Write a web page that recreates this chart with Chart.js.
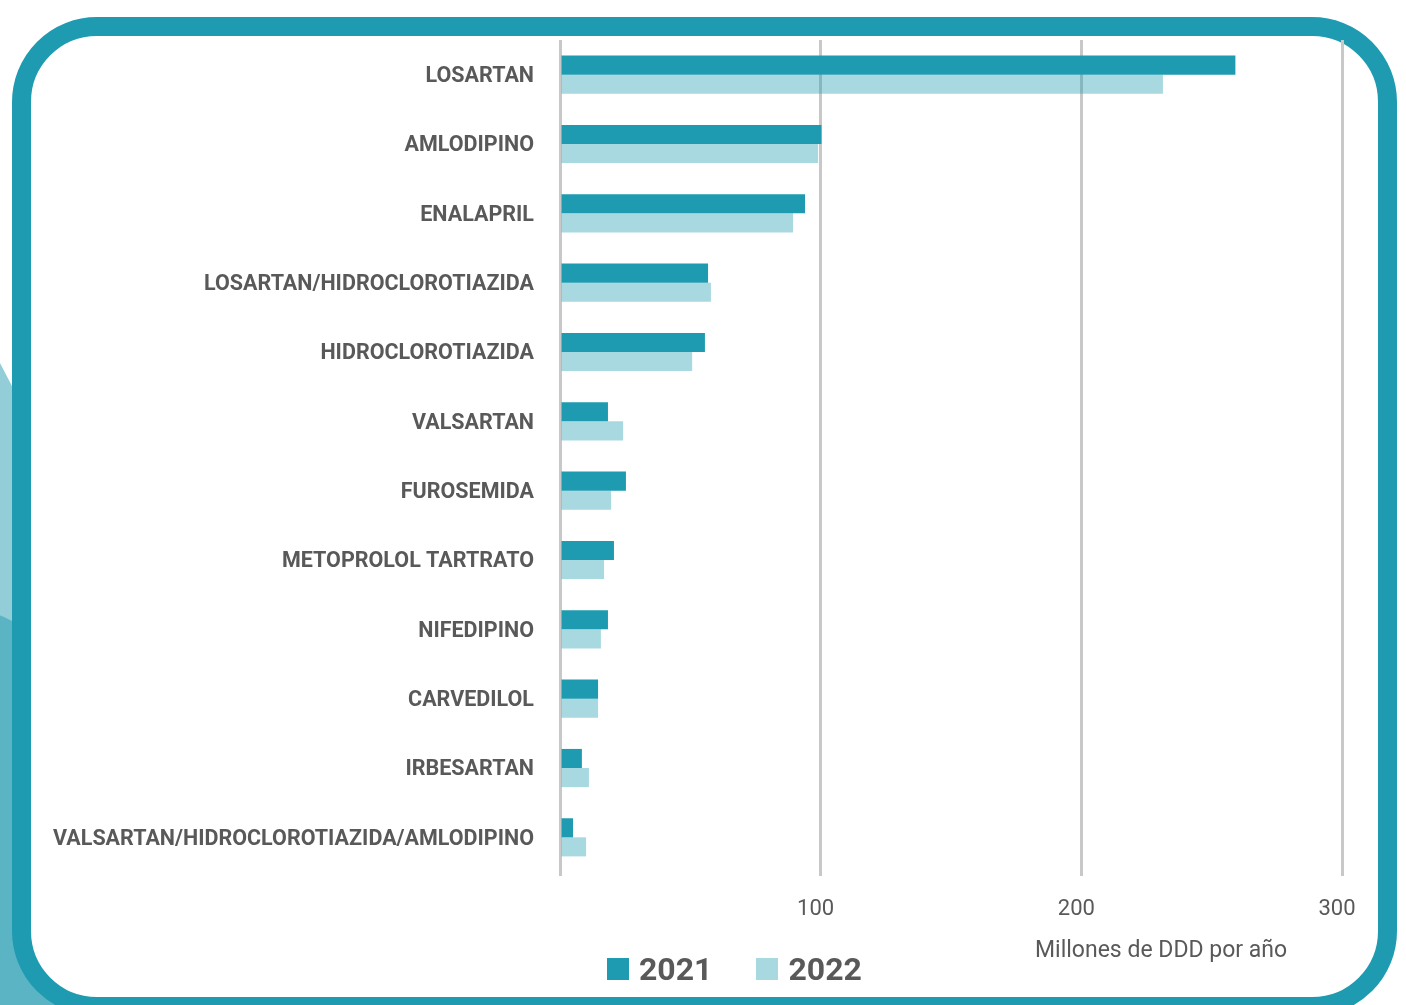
<!DOCTYPE html>
<html lang="es">
<head>
<meta charset="utf-8">
<title>Consumo de antihipertensivos</title>
<script src="https://cdn.jsdelivr.net/npm/chart.js@4/dist/chart.umd.min.js"></script>
<style>
  html, body { margin: 0; padding: 0; background: #fff; }
  body { width: 1406px; height: 1005px; position: relative; overflow: hidden; font-family: Roboto, 'Noto Sans', sans-serif; }
  .deco { position: absolute; left: 0; width: 120px; z-index: 0; }
  .deco-light { top: 300px; height: 400px; background: #93ced8;
    clip-path: polygon(0 63px, 40px 140px, 40px 340px, 0 315px); }
  .deco-dark { top: 600px; height: 405px; background: #5ab4c4;
    clip-path: polygon(0 15px, 40px 35px, 120px 35px, 120px 405px, 0 405px); }
  .frame { position: absolute; left: 12px; top: 17px; width: 1347px; height: 961px;
    border: 19px solid #1e9bb0; border-radius: 85px; background: #fff; z-index: 1; }
  #chart { position: absolute; left: 0; top: 0; z-index: 2; }
  .legend { position: absolute; top: 950px; left: 607px; z-index: 3; display: flex; align-items: center;
    font-weight: bold; font-size: 32px; color: #595959; }
  .legend span.box { display: inline-block; width: 22px; height: 22px; margin-right: 10px; }
  .legend span.txt { margin-right: 44px; }
  .axis-title { position: absolute; left: 1035px; top: 936px; z-index: 3; font-size: 23px; color: #595959; }
</style>
</head>
<body>
<div class="deco deco-light"></div>
<div class="deco deco-dark"></div>
<div class="frame"></div>
<canvas id="chart" width="1406" height="1005"></canvas>
<div class="legend" id="legend"></div>
<div class="axis-title">Millones de DDD por año</div>
<script>
// Millones de DDD por año, por principio activo
const categories = [
  'LOSARTAN', 'AMLODIPINO', 'ENALAPRIL', 'LOSARTAN/HIDROCLOROTIAZIDA',
  'HIDROCLOROTIAZIDA', 'VALSARTAN', 'FUROSEMIDA', 'METOPROLOL TARTRATO',
  'NIFEDIPINO', 'CARVEDILOL', 'IRBESARTAN', 'VALSARTAN/HIDROCLOROTIAZIDA/AMLODIPINO'
];
const years = ['2021', '2022'];
const values2021 = [259.1, 100.3, 94.0, 56.8, 55.6, 18.4, 25.3, 20.7, 18.4, 14.6, 8.4, 5.0];
const values2022 = [231.3, 99.0, 89.4, 57.9, 50.7, 24.2, 19.6, 16.9, 15.7, 14.6, 11.1, 10.0];
const xTicks = [0, 100, 200, 300];

const teal = '#1e9bb0';
const tealLight = 'rgba(30, 155, 176, 0.39)';
const gray = '#595959';

const ctx = document.getElementById('chart').getContext('2d');
const chart = new Chart(ctx, {
  type: 'bar',
  data: {
    labels: categories,
    datasets: [
      { label: years[0], data: values2021, backgroundColor: teal },
      { label: years[1], data: values2022, backgroundColor: tealLight },
    ],
  },
  options: {
    indexAxis: 'y',
    responsive: false,
    animation: false,
    layout: { padding: { top: 40, right: 64, left: 0, bottom: 0 } },
    datasets: { bar: { categoryPercentage: 0.55, barPercentage: 1.0, borderWidth: 0 } },
    plugins: { legend: { display: false }, tooltip: { enabled: false } },
    scales: {
      x: {
        min: 0,
        max: 300,
        afterBuildTicks: axis => { axis.ticks = xTicks.map(v => ({ value: v })); },
        afterFit: axis => { axis.height = 133; },
        border: { display: false },
        grid: { color: '#c8c8c8', lineWidth: 3, tickLength: 4, drawTicks: true },
        ticks: {
          padding: 20,
          labelOffset: -5,
          color: gray,
          font: { family: 'Roboto', size: 22 },
          callback: v => (v === 0 ? '' : v),
        },
      },
      y: {
        afterFit: axis => { axis.width = 560; },
        border: { display: false },
        grid: { display: false },
        ticks: { padding: 18, labelOffset: 2, color: gray, font: { family: 'Roboto', size: 21.5, weight: 'bold' } },
      },
    },
  },
});

// legend built from the dataset labels and colours
const legend = document.getElementById('legend');
chart.data.datasets.forEach(ds => {
  legend.insertAdjacentHTML('beforeend',
    `<span class="box" style="background:${ds.backgroundColor}"></span><span class="txt">${ds.label}</span>`);
});
</script>
</body>
</html>
